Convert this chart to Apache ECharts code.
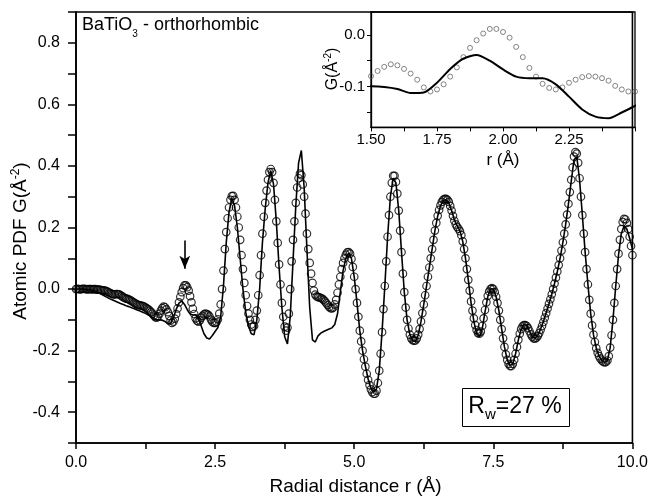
<!DOCTYPE html>
<html><head><meta charset="utf-8">
<script src="https://cdn.jsdelivr.net/npm/echarts@6/dist/echarts.min.js"></script>
<style>html,body{margin:0;padding:0;background:#fff}#c{width:651px;height:498px}</style>
</head><body><div id="c"></div>
<script>
// ---- data ----
const OBS_START = 0, OBS_STEP = 0.025;   // r grid of the measured PDF
const FIT_START = 0, FIT_STEP = 0.05;    // r grid of the model fit
const gObs = [
 0.000, 0.001, 0.000,-0.001, 0.000, 0.001, 0.001, 0.000,-0.001, 0.000,
 0.000, 0.000,-0.001, 0.000, 0.000,-0.002,-0.002,-0.002,-0.003,-0.004,
-0.004,-0.005,-0.007,-0.009,-0.012,-0.014,-0.016,-0.017,-0.017,-0.016,
-0.016,-0.017,-0.020,-0.023,-0.026,-0.029,-0.031,-0.032,-0.034,-0.036,
-0.039,-0.042,-0.045,-0.048,-0.050,-0.052,-0.053,-0.054,-0.055,-0.057,
-0.060,-0.063,-0.066,-0.070,-0.075,-0.080,-0.086,-0.091,-0.093,-0.088,
-0.080,-0.070,-0.062,-0.057,-0.059,-0.066,-0.075,-0.087,-0.102,-0.110,
-0.106,-0.096,-0.081,-0.063,-0.043,-0.025,-0.010, 0.003, 0.012, 0.012,
 0.006,-0.005,-0.023,-0.043,-0.064,-0.081,-0.095,-0.103,-0.106,-0.102,
-0.093,-0.087,-0.082,-0.080,-0.081,-0.084,-0.089,-0.099,-0.106,-0.110,
-0.110,-0.107,-0.098,-0.080,-0.050, 0.000, 0.060, 0.130, 0.185, 0.230,
 0.265, 0.290, 0.302, 0.303, 0.290, 0.265, 0.235, 0.200, 0.160, 0.110,
 0.065, 0.020,-0.020,-0.055,-0.080,-0.100,-0.115,-0.123,-0.120,-0.100,
-0.070,-0.020, 0.045, 0.110, 0.180, 0.235, 0.280, 0.320, 0.355, 0.380,
 0.390, 0.380, 0.345, 0.290, 0.220, 0.150, 0.080, 0.015,-0.045,-0.090,
-0.122,-0.135,-0.125,-0.080, 0.000, 0.090, 0.160, 0.220, 0.280, 0.330,
 0.360, 0.375, 0.370, 0.340, 0.300, 0.245, 0.180, 0.130, 0.085, 0.050,
 0.020,-0.005,-0.018,-0.024,-0.026,-0.027,-0.029,-0.031,-0.035,-0.040,
-0.046,-0.052,-0.058,-0.062,-0.063,-0.060,-0.050,-0.035,-0.012, 0.015,
 0.040, 0.065, 0.085, 0.100, 0.112, 0.119, 0.120, 0.115, 0.098, 0.072,
 0.040, 0.000,-0.045,-0.090,-0.135,-0.170,-0.200,-0.228,-0.252,-0.275,
-0.295,-0.312,-0.326,-0.335,-0.340,-0.340,-0.330,-0.305,-0.265,-0.210,
-0.140,-0.065, 0.010, 0.090, 0.170, 0.240, 0.300, 0.345, 0.368, 0.368,
 0.348, 0.310, 0.255, 0.190, 0.120, 0.050,-0.010,-0.060,-0.100,-0.128,
-0.148,-0.160,-0.166,-0.168,-0.167,-0.160,-0.148,-0.130,-0.105,-0.078,
-0.050,-0.020, 0.010, 0.040, 0.070, 0.100, 0.130, 0.160, 0.190, 0.215,
 0.238, 0.257, 0.272, 0.283, 0.290, 0.293, 0.293, 0.290, 0.283, 0.270,
 0.255, 0.238, 0.222, 0.210, 0.202, 0.196, 0.188, 0.175, 0.155, 0.130,
 0.100, 0.065, 0.030,-0.005,-0.040,-0.070,-0.095,-0.117,-0.133,-0.143,
-0.145,-0.138,-0.120,-0.095,-0.068,-0.043,-0.022,-0.008, 0.000, 0.003,
 0.000,-0.010,-0.025,-0.045,-0.070,-0.100,-0.130,-0.160,-0.188,-0.212,
-0.230,-0.243,-0.250,-0.250,-0.243,-0.230,-0.210,-0.188,-0.165,-0.145,
-0.130,-0.121,-0.117,-0.117,-0.120,-0.127,-0.137,-0.147,-0.155,-0.160,
-0.161,-0.158,-0.152,-0.143,-0.132,-0.120,-0.107,-0.093,-0.078,-0.063,
-0.048,-0.033,-0.017, 0.000, 0.018, 0.037, 0.057, 0.078, 0.100, 0.125,
 0.152, 0.180, 0.210, 0.242, 0.277, 0.315, 0.355, 0.395, 0.430, 0.445,
 0.440, 0.410, 0.360, 0.300, 0.240, 0.180, 0.120, 0.065, 0.015,-0.035,
-0.080,-0.118,-0.148,-0.172,-0.192,-0.207,-0.218,-0.226,-0.232,-0.236,
-0.238,-0.237,-0.232,-0.218,-0.190,-0.150,-0.100,-0.045, 0.010, 0.065,
 0.115, 0.160, 0.195, 0.218, 0.228, 0.226, 0.215, 0.195, 0.170, 0.140,
 0.110
];
const gFit = [
 0.000, 0.000, 0.000,-0.001,-0.002,-0.003,-0.005,-0.008,-0.012,-0.016,
-0.021,-0.026,-0.031,-0.035,-0.039,-0.043,-0.047,-0.050,-0.054,-0.057,
-0.061,-0.064,-0.068,-0.071,-0.075,-0.079,-0.084,-0.090,-0.097,-0.100,
-0.100,-0.101,-0.105,-0.113,-0.112,-0.093,-0.066,-0.046,-0.039,-0.050,
-0.067,-0.081,-0.084,-0.084,-0.096,-0.120,-0.145,-0.159,-0.162,-0.151,
-0.138,-0.125,-0.090, 0.010, 0.150, 0.250, 0.295, 0.270, 0.200, 0.100,
 0.000,-0.075,-0.120,-0.145,-0.148,-0.100, 0.000, 0.150, 0.260, 0.345,
 0.385, 0.340, 0.220, 0.070,-0.060,-0.155,-0.178,-0.090, 0.090, 0.270,
 0.410, 0.450, 0.330, 0.130,-0.060,-0.165,-0.172,-0.152,-0.143,-0.138,
-0.134,-0.130,-0.126,-0.115,-0.080,-0.010, 0.060, 0.100, 0.118, 0.100,
 0.040,-0.045,-0.135,-0.200,-0.250,-0.292,-0.322,-0.335,-0.325,-0.265,
-0.140, 0.010, 0.170, 0.300, 0.360, 0.345, 0.255, 0.120,-0.010,-0.100,
-0.148,-0.168,-0.170,-0.150,-0.105,-0.050, 0.010, 0.070, 0.130, 0.190,
 0.237, 0.270, 0.288, 0.290, 0.280, 0.255, 0.225, 0.205, 0.190, 0.155,
 0.100, 0.030,-0.045,-0.105,-0.145,-0.155,-0.130,-0.075,-0.025, 0.000,
 0.000,-0.025,-0.070,-0.130,-0.188,-0.230,-0.248,-0.243,-0.210,-0.165,
-0.130,-0.115,-0.118,-0.137,-0.155,-0.160,-0.150,-0.130,-0.105,-0.077,
-0.048,-0.017, 0.018, 0.057, 0.100, 0.152, 0.210, 0.277, 0.350, 0.420,
 0.430, 0.355, 0.240, 0.120, 0.015,-0.080,-0.148,-0.192,-0.218,-0.232,
-0.238,-0.232,-0.190,-0.100, 0.010, 0.110, 0.180, 0.205, 0.195, 0.165,
 0.130
];
const mainXLabels = [0, 2.5, 5, 7.5, 10];
const mainYLabels = [-0.4, -0.2, 0, 0.2, 0.4, 0.6, 0.8];
const insetXLabels = [1.5, 1.75, 2.0, 2.25];
const insetYLabels = [0, -0.1];
const insetYTicks = [0, -0.05, -0.1, -0.15];
const arrowR = 1.955, arrowTop = 0.158, arrowBottom = 0.066;

// ---- build ----
const obsPairs = gObs.map((g, i) => [+(OBS_START + i * OBS_STEP).toFixed(4), g]);
const fitPairs = gFit.map((g, i) => [+(FIT_START + i * FIT_STEP).toFixed(4), g]);
const FONT = 'Liberation Sans, Arial, sans-serif';
const fmt1 = v => (Math.round(v * 10) / 10).toFixed(1);
const fmt2 = v => (Math.round(v * 100) / 100).toFixed(2);

const chart = echarts.init(document.getElementById('c'), null, {renderer: 'canvas'});
const axisCommon = {
  axisLine: {onZero: false, lineStyle: {color: '#000', width: 1.6}},
  splitLine: {show: false},
};
chart.setOption({
  animation: false,
  backgroundColor: '#fff',
  grid: [
    {left: 76, top: 12, right: 16, bottom: 55, show: true, borderColor: '#000', borderWidth: 1.6},
    {left: 371, top: 12, right: 16, height: 115.4, show: true, borderColor: '#000', borderWidth: 1.3}
  ],
  xAxis: [
    Object.assign({gridIndex: 0, type: 'value', min: 0, max: 10, interval: 1.25,
      axisTick: {length: 6, lineStyle: {color: '#000', width: 1.5}},
      axisLabel: {customValues: mainXLabels, formatter: fmt1, color: '#000', fontSize: 16, fontFamily: FONT, margin: 12}}, axisCommon),
    Object.assign({gridIndex: 1, type: 'value', min: 1.5, max: 2.5, interval: 0.125,
      axisTick: {length: 4, lineStyle: {color: '#000', width: 1}},
      axisLabel: {customValues: insetXLabels, formatter: fmt2, color: '#000', fontSize: 15, fontFamily: FONT, margin: 5}}, axisCommon, {axisLine: {onZero: false, lineStyle: {color: '#000', width: 1.3}}})
  ],
  yAxis: [
    Object.assign({gridIndex: 0, type: 'value', min: -0.5, max: 0.9, interval: 0.1,
      axisTick: {length: 8, lineStyle: {color: '#000', width: 1.5}},
      axisLabel: {customValues: mainYLabels, formatter: fmt1, color: '#000', fontSize: 16, fontFamily: FONT, margin: 16}}, axisCommon),
    Object.assign({gridIndex: 1, type: 'value', min: -0.18, max: 0.045,
      axisTick: {customValues: insetYTicks, length: 4, lineStyle: {color: '#000', width: 1}},
      axisLabel: {customValues: insetYLabels, formatter: fmt1, color: '#000', fontSize: 15, fontFamily: FONT, margin: 6}}, axisCommon, {axisLine: {onZero: false, lineStyle: {color: '#000', width: 1.3}}})
  ],
  series: [
    {type: 'scatter', xAxisIndex: 0, yAxisIndex: 0, data: obsPairs, symbol: 'circle', symbolSize: 7.5,
      itemStyle: {color: 'rgba(0,0,0,0)', borderColor: '#000', borderWidth: 1.2}, silent: true, z: 2,
      markLine: {silent: true, symbol: ['none', 'arrow'], symbolSize: [8, 13], animation: false,
        lineStyle: {color: '#000', width: 1.6, type: 'solid'}, label: {show: false},
        data: [[{coord: [arrowR, arrowTop]}, {coord: [arrowR, arrowBottom]}]]}},
    {type: 'line', xAxisIndex: 0, yAxisIndex: 0, data: fitPairs, showSymbol: false, symbol: 'none',
      lineStyle: {color: '#000', width: 1.6}, silent: true, z: 3},
    {type: 'scatter', xAxisIndex: 1, yAxisIndex: 1, data: obsPairs, symbol: 'circle', symbolSize: 5, clip: true,
      itemStyle: {color: 'rgba(0,0,0,0)', borderColor: '#555', borderWidth: 0.9}, silent: true, z: 2},
    {type: 'line', xAxisIndex: 1, yAxisIndex: 1, data: fitPairs, showSymbol: false, symbol: 'none', clip: true, smooth: 0.25,
      lineStyle: {color: '#000', width: 2}, silent: true, z: 3}
  ],
  graphic: [
    {type: 'text', x: 82, y: 12, z: 10, style: {text: '{a|BaTiO}{s|3}{a| - orthorhombic}', align: 'left', verticalAlign: 'top',
      rich: {a: {fontSize: 18, fontFamily: FONT, fill: '#000', lineHeight: 27, verticalAlign: 'middle'},
             s: {fontSize: 10, fontFamily: FONT, fill: '#000', lineHeight: 8, verticalAlign: 'bottom'}}}},
    {type: 'text', x: 21, y: 241, rotation: Math.PI / 2, z: 10, style: {text: '{a|Atomic PDF G(Å}{p|-2}{a|)}', align: 'center', verticalAlign: 'middle',
      rich: {a: {fontSize: 19, fontFamily: FONT, fill: '#000', lineHeight: 22, verticalAlign: 'middle'},
             p: {fontSize: 12, fontFamily: FONT, fill: '#000', lineHeight: 12, verticalAlign: 'top'}}}},
    {type: 'text', x: 355.5, y: 487, z: 10, style: {text: 'Radial distance r (Å)', align: 'center', verticalAlign: 'middle',
      fontSize: 19, fontFamily: FONT, fill: '#000'}},
    {type: 'text', x: 333, y: 69, rotation: Math.PI / 2, z: 10, style: {text: '{a|G(Å}{p|-2}{a|)}', align: 'center', verticalAlign: 'middle',
      rich: {a: {fontSize: 16, fontFamily: FONT, fill: '#000', lineHeight: 20, verticalAlign: 'middle'},
             p: {fontSize: 10, fontFamily: FONT, fill: '#000', lineHeight: 10, verticalAlign: 'top'}}}},
    {type: 'text', x: 503, y: 160, z: 10, style: {text: 'r (Å)', align: 'center', verticalAlign: 'middle',
      fontSize: 17, fontFamily: FONT, fill: '#000'}},
    {type: 'rect', z: 10, shape: {x: 462.5, y: 388.5, width: 107, height: 38}, style: {fill: '#fff', stroke: '#000', lineWidth: 1}},
    {type: 'text', x: 515, y: 407, z: 11, style: {text: '{a|R}{s|w}{a|=27 %}', align: 'center', verticalAlign: 'middle',
      rich: {a: {fontSize: 23, fontFamily: FONT, fill: '#000', lineHeight: 30, verticalAlign: 'middle'},
             s: {fontSize: 15, fontFamily: FONT, fill: '#000', lineHeight: 14, verticalAlign: 'bottom'}}}}
  ]
});
</script></body></html>
